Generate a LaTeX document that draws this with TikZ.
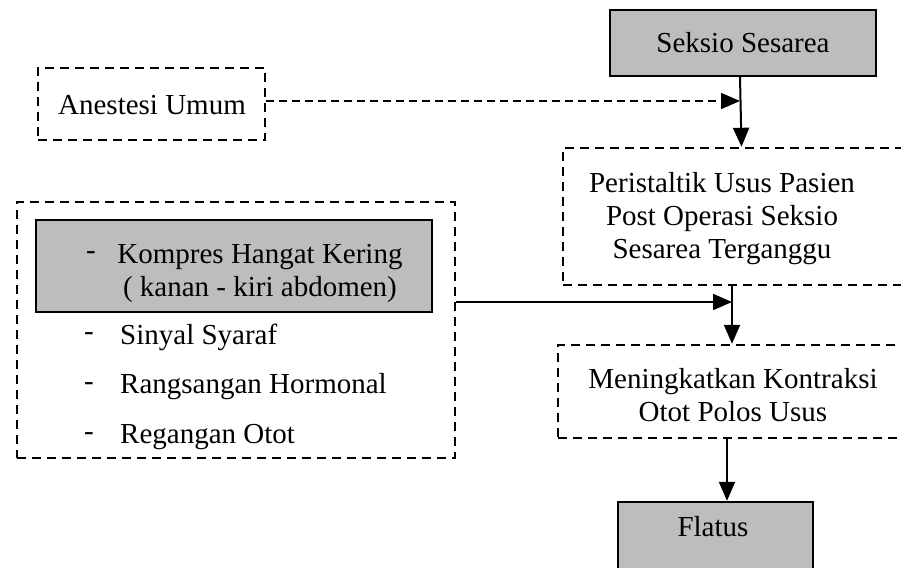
\documentclass[tikz,border=0pt]{standalone}
\usepackage{fontspec}
\setmainfont{Liberation Serif}
\usetikzlibrary{arrows.meta,positioning}
\tikzset{
  dbox/.style={draw, line width=2.4pt, dash pattern=on 9pt off 6pt, inner sep=0pt},
  gbox/.style={draw, line width=2.4pt, fill=black!26, inner sep=0pt},
  txt/.style={font=\fontsize{29}{33}\selectfont, align=center, inner sep=0pt},
  ltxt/.style={font=\fontsize{29}{33}\selectfont, anchor=west, inner sep=0pt},
  arr/.style={line width=2pt, -{Triangle[length=19pt,width=16pt]}},
  darr/.style={line width=1.6pt, dash pattern=on 8pt off 5pt, -{Triangle[length=19pt,width=16pt]}}
}
\begin{document}
\begin{tikzpicture}[x=1pt,y=-1pt]
\useasboundingbox (0,0) rectangle (901,567);
% boxes
\node[gbox, minimum width=266pt, minimum height=66pt] (sek) at (743,43) {};
\node[txt] (sekT) at (743,43) {Seksio Sesarea};
\node[dbox, minimum width=227pt, minimum height=72pt] (ane) at (151.5,104) {};
\node[txt] (aneT) at (152,105) {Anestesi Umum};
\node[dbox, minimum width=357pt, minimum height=137pt] (peri) at (741.5,216.5) {};
\node[txt] (periT) at (722,219) {Peristaltik Usus Pasien\\Post Operasi Seksio\\Sesarea Terganggu};
\node[dbox, minimum width=362pt, minimum height=93pt] (men) at (739,391.5) {};
\node[txt] (menT) at (733,395) {Meningkatkan Kontraksi\\Otot Polos Usus};
\node[gbox, minimum width=195pt, minimum height=80pt] (fla) at (715.5,542) {};
\node[txt] (flaT) at (713,527) {Flatus};
\node[dbox, minimum width=438pt, minimum height=256pt] (big) at (236,330) {};
\node[gbox, minimum width=396pt, minimum height=92pt] (kom) at (234,266) {};
\node[txt, anchor=west] (komD) at (86,256) {-};
\node[txt] (komT) at (260,273) {Kompres Hangat Kering\\( kanan - kiri abdomen)};
\node[ltxt] (d1) at (84,337) {-};
\node[ltxt] (l1) at (120,337) {Sinyal Syaraf};
\node[ltxt] (d2) at (84,387) {-};
\node[ltxt] (l2) at (120,387) {Rangsangan Hormonal};
\node[ltxt] (d3) at (84,437) {-};
\node[ltxt] (l3) at (120,437) {Regangan Otot};
% junctions
\coordinate (j1) at (740,101);
\coordinate (j2) at (732,302);
% connectors
\draw[arr] ([xshift=-3pt]sek.south) -- ([xshift=-1.5pt]sek.south |- peri.north);
\draw[darr] (ane.east |- j1) -- (j1);
\draw[arr] (j2 |- peri.south) -- (j2 |- men.north);
\draw[arr] (big.east |- j2) -- (j2);
\draw[arr] ([xshift=-12pt]men.south) -- ([xshift=-12pt]men.south |- fla.north);
\end{tikzpicture}
\end{document}
